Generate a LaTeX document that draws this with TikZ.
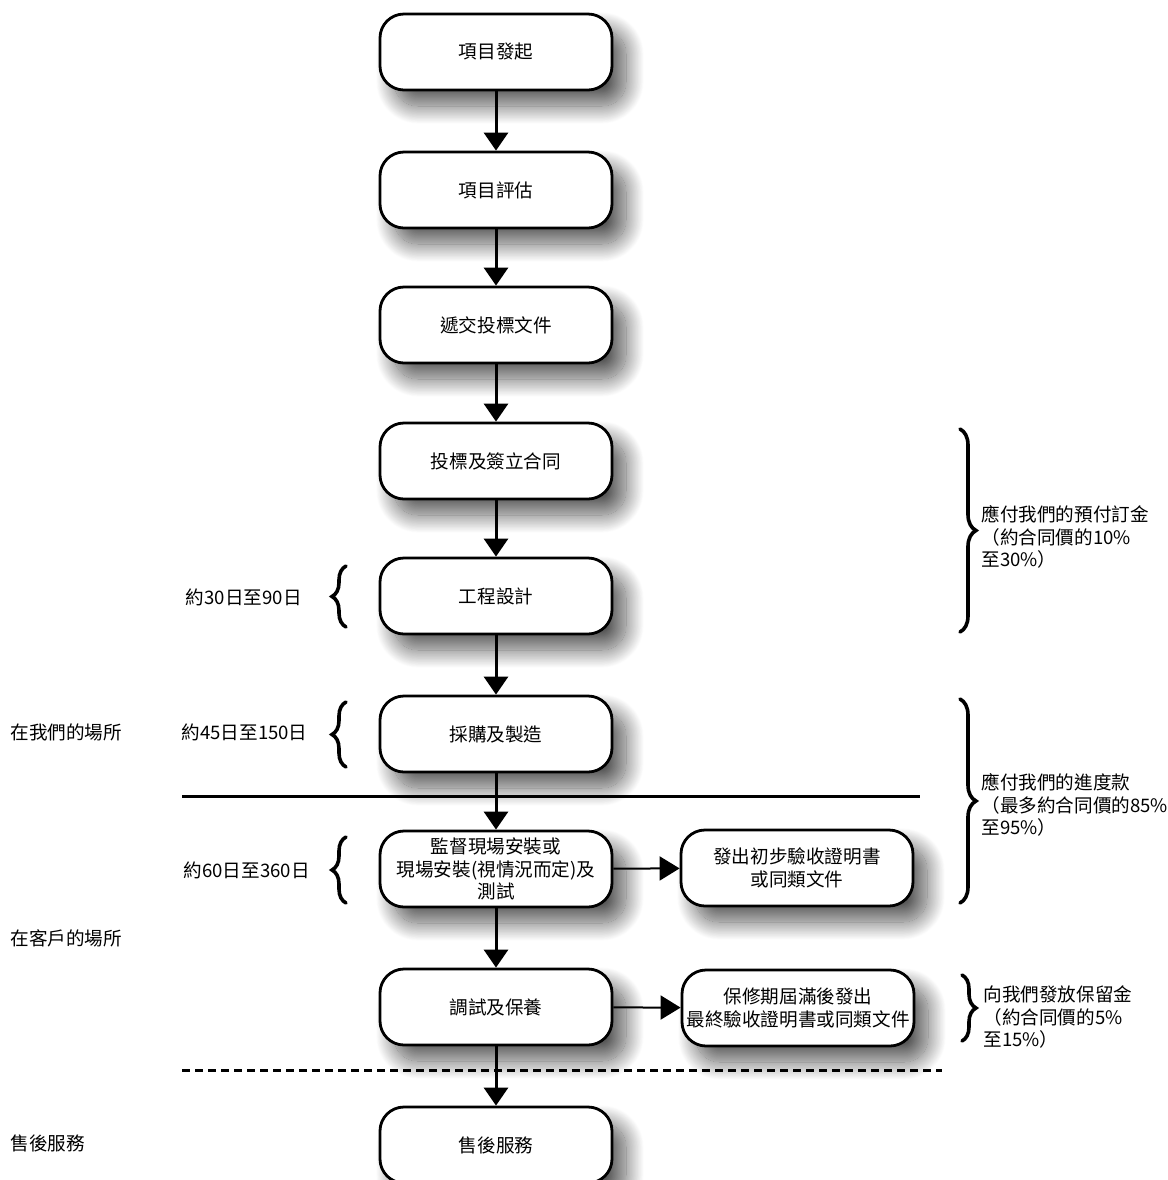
\documentclass[tikz,border=0pt]{standalone}
\usepackage{fontspec}
\setmainfont{Noto Sans CJK TC}
\usetikzlibrary{arrows.meta,shadows.blur,decorations.pathreplacing}

\begin{document}
\begin{tikzpicture}[x=0.5pt,y=-0.5pt,
  stage/.style={rectangle, rounded corners=12pt, draw, line width=1.4pt, fill=white,
    minimum width=116pt, minimum height=38pt, align=center, inner sep=1pt,
    blur shadow={shadow xshift=7pt, shadow yshift=-8pt, shadow blur radius=9pt,
      shadow blur steps=30, shadow opacity=65}},
  note/.style={align=left, inner sep=0pt},
  flow/.style={line width=1.5pt, -{Triangle[width=12pt,length=9pt]}},
  side/.style={line width=1pt, -{Triangle[width=12pt,length=10pt]}},
  bracket/.style={decorate, decoration={brace, amplitude=#1}, line width=1.8pt, line cap=round},
  font=\fontsize{9.3pt}{11.3pt}\selectfont]

  \useasboundingbox (0,0) rectangle (1168,1180);

  % main stages
  \node[stage] (init)       at (496,52)   {項目發起};
  \node[stage] (assess)     at (496,190)  {項目評估};
  \node[stage] (tender)     at (496,325)  {遞交投標文件};
  \node[stage] (contract)   at (496,461)  {投標及簽立合同};
  \node[stage] (design)     at (496,596)  {工程設計};
  \node[stage] (procure)    at (496,734)  {採購及製造};
  \node[stage] (install)    at (496,869)  {監督現場安裝或\\現場安裝(視情況而定)及\\測試};
  \node[stage] (commission) at (496,1007) {調試及保養};
  \node[stage] (aftersales) at (496,1145) {售後服務};
  \node[stage] (prelim)     at (797,868)  {發出初步驗收證明書\\或同類文件};
  \node[stage] (final)      at (798,1008) {保修期屆滿後發出\\最終驗收證明書或同類文件};

  % site lines
  \draw[line width=1.5pt] (182,796) -- (920,796);
  \draw[line width=1.5pt, dash pattern=on 4pt off 2.5pt] (182,1070) -- (942,1070);

  \draw[flow] (init) -- (assess);
  \draw[flow] (assess) -- (tender);
  \draw[flow] (tender) -- (contract);
  \draw[flow] (contract) -- (design);
  \draw[flow] (design) -- (procure);
  \draw[flow] (procure) -- (install);
  \draw[flow] (install) -- (commission);
  \draw[flow] (commission) -- (aftersales);
  \draw[side] (install) -- (prelim);
  \draw[side] (commission) -- (final);

  % durations
  \coordinate (d1) at (346,566); \coordinate (d2) at (346,627);
  \coordinate (p1) at (346,702); \coordinate (p2) at (346,767);
  \coordinate (i1) at (346,837); \coordinate (i2) at (346,903);
  \draw[bracket=7pt] (d2) -- (d1);
  \draw[bracket=7pt] (p2) -- (p1);
  \draw[bracket=7pt] (i2) -- (i1);
  \node[note, anchor=east] (tdesign)  at (302,597) {約30日至90日};
  \node[note, anchor=east] (tprocure) at (308,732) {約45日至150日};
  \node[note, anchor=east] (tinstall) at (310,870) {約60日至360日};

  % sites
  \node[note, anchor=west] (ours)   at (10,732)  {在我們的場所};
  \node[note, anchor=west] (theirs) at (10,938)  {在客戶的場所};
  \node[note, anchor=west] (after)  at (10,1143) {售後服務};

  % payments
  \coordinate (a1) at (960,429); \coordinate (a2) at (960,632);
  \coordinate (b1) at (960,699); \coordinate (b2) at (960,903);
  \coordinate (c1) at (962,975); \coordinate (c2) at (962,1041);
  \draw[bracket=8pt] (a1) -- (a2);
  \draw[bracket=8pt] (b1) -- (b2);
  \draw[bracket=7pt] (c1) -- (c2);
  \node[note, anchor=west] (tdeposit)  at (981,537)  {應付我們的預付訂金\\（約合同價的10\%\\至30\%）};
  \node[note, anchor=west] (tprogress) at (981,805)  {應付我們的進度款\\（最多約合同價的85\%\\至95\%）};
  \node[note, anchor=west] (tretain)   at (983,1017) {向我們發放保留金\\（約合同價的5\%\\至15\%）};
\end{tikzpicture}
\end{document}
